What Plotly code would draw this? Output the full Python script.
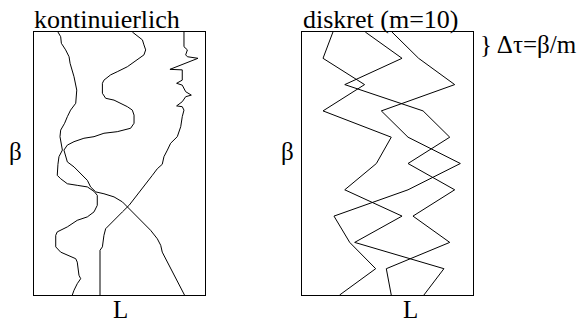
import plotly.graph_objects as go

# ---------------- data ----------------
# continuous world lines (L in % of box width, tau in % of beta, 0 = top)
cont_a_L = [14.0, 15.6, 16.0, 18.5, 20.5, 21.1, 23.4, 25.0, 24.4, 21.4, 19.5, 17.9, 15.6, 15.2, 16.6, 14.6, 14.0,
            13.6, 15.6, 19.5, 25.3, 31.2, 35.1, 37.0, 37.0, 35.1, 31.2, 25.3, 19.5, 13.6, 12.7, 12.7, 15.6, 19.5,
            24.4, 25.3, 26.3, 27.3, 25.3, 23.4, 22.4]
cont_a_tau = [0, 1.8, 4.3, 6.8, 9.4, 11.9, 17.0, 22.1, 27.1, 29.7, 32.2, 34.7, 37.3, 39.8, 44.9, 47.4, 50.3,
              54.5, 55.8, 57.7, 58.3, 58.9, 60.6, 62.1, 65.9, 68.4, 70.3, 71.6, 74.1, 76.0, 77.3, 81.7, 83.7, 84.9,
              86.2, 87.5, 92.5, 93.8, 95.7, 98.2, 100]

cont_b_L = [57.5, 61.4, 63.4, 64.3, 65.3, 64.3, 60.4, 54.6, 48.7, 44.8, 40.9, 40.0, 40.0, 41.9, 46.8, 50.7, 54.6,
            57.5, 58.5, 58.5, 56.5, 48.7, 40.9, 35.1, 29.2, 23.4, 19.5, 17.5, 18.5, 19.5, 19.5, 23.4, 27.3, 31.2,
            33.1, 36.1, 40.9, 46.8, 51.7, 55.6, 60.4, 64.3, 68.2, 72.1, 74.1, 75.0, 77.0, 78.9, 81.9, 83.8, 85.8,
            88.0]
cont_b_tau = [0, 1.8, 3.0, 4.9, 6.8, 8.7, 10.6, 13.2, 15.1, 16.3, 18.3, 19.5, 23.3, 25.2, 25.9, 27.1, 28.4,
              29.7, 31.6, 34.7, 36.6, 37.9, 38.5, 39.8, 40.4, 41.7, 43.0, 44.9, 46.8, 48.7, 49.4, 51.3, 53.9, 56.4,
              58.9, 60.8, 61.5, 62.7, 64.6, 67.2, 70.3, 72.9, 75.4, 78.6, 81.1, 83.7, 86.2, 88.7, 91.9, 94.4, 97.0,
              100]

cont_c_L = [87.7, 87.7, 89.7, 88.7, 89.7, 95.9, 79.5, 86.7, 86.7, 83.4, 86.7, 88.7, 92.0, 88.7, 86.7, 83.4, 86.7,
            87.7, 86.7, 85.8, 83.8, 79.9, 78.0, 76.0, 75.0, 72.1, 69.2, 66.3, 62.4, 58.5, 55.6, 51.7, 47.8, 44.8,
            41.9, 40.9, 40.0, 38.6, 38.6]
cont_c_tau = [0, 5.6, 6.8, 8.7, 9.4, 10.0, 14.2, 14.4, 18.3, 19.5, 20.2, 22.7, 24.0, 24.6, 26.5, 28.1, 28.4,
              29.7, 32.2, 36.0, 39.8, 42.3, 44.9, 47.4, 50.3, 52.0, 54.5, 57.0, 60.2, 63.4, 65.9, 68.4, 71.0, 72.9,
              74.8, 77.3, 81.7, 83.0, 100]

# discrete world lines, m = 10 time slices
disc_tau = [0, 10, 20, 30, 40, 50, 60, 70, 80, 90, 100]
disc_1_L = [18.1, 12.3, 36.6, 12.3, 52.2, 43.5, 25.0, 58.5, 30.8, 83.0, 71.3]
disc_2_L = [37.0, 58.5, 25.0, 70.8, 86.4, 62.0, 89.3, 64.9, 86.4, 49.3, 52.2]
disc_3_L = [52.6, 68.2, 89.3, 46.4, 62.0, 92.6, 62.0, 18.7, 27.9, 43.1, 22.0]

title_left = "kontinuierlich"
title_right = "diskret (m=10)"
x_label = "L"
y_label = "β"
slice_label = "} Δτ=β/m"

# ---------------- layout helpers ----------------
W, H = 578, 323
FONT = "Liberation Serif, Times New Roman, serif"
FS = 25


def px(x):
    return x / W


def py(y):
    return 1 - y / H


fig = go.Figure()
line_style = dict(color="black", width=1)

for L, t in [(cont_a_L, cont_a_tau), (cont_b_L, cont_b_tau), (cont_c_L, cont_c_tau)]:
    fig.add_trace(go.Scatter(x=L, y=t, mode="lines", line=line_style, xaxis="x", yaxis="y",
                             showlegend=False, hoverinfo="skip"))

for L in [disc_1_L, disc_2_L, disc_3_L]:
    fig.add_trace(go.Scatter(x=L, y=disc_tau, mode="lines", line=line_style, xaxis="x2", yaxis="y2",
                             showlegend=False, hoverinfo="skip"))

ax_common = dict(range=[0, 100], showgrid=False, zeroline=False, showticklabels=False, ticks="",
                 showline=True, mirror=True, linecolor="black", linewidth=1, fixedrange=True)
ay_common = dict(range=[100, 0], showgrid=False, zeroline=False, showticklabels=False, ticks="",
                 showline=True, mirror=True, linecolor="black", linewidth=1, fixedrange=True,
                 domain=[py(295), py(32)])

fig.update_layout(
    width=W, height=H,
    margin=dict(l=0, r=0, t=0, b=0),
    paper_bgcolor="white", plot_bgcolor="white",
    xaxis=dict(**ax_common, domain=[px(34), px(205)], anchor="y"),
    yaxis=dict(**ay_common, anchor="x"),
    xaxis2=dict(**ax_common, domain=[px(302), px(473)], anchor="y2"),
    yaxis2=dict(**ay_common, anchor="x2"),
    font=dict(family=FONT, size=FS, color="black"),
)

ann = [
    (title_left, 33, 19, "left", 26),
    (title_right, 302, 19, "left", 26),
    (y_label, 15, 151, "center", FS),
    (y_label, 287, 151, "center", FS),
    (x_label, 120, 309, "center", FS),
    (x_label, 410, 309, "center", FS),
    (slice_label, 479, 44, "left", FS),
]
for text, x, y, xa, fs in ann:
    fig.add_annotation(text=text, x=px(x), y=py(y), xref="paper", yref="paper",
                       xanchor=xa, yanchor="middle", showarrow=False, borderpad=0,
                       font=dict(family=FONT, size=fs, color="black"))

fig.write_html("out.html", config={"displayModeBar": False, "staticPlot": True})

# remove the default page margin so the figure fills the window exactly
with open("out.html", "r", encoding="utf-8") as f:
    html = f.read()
html = html.replace("<head>", "<head><style>html,body{margin:0;padding:0;overflow:hidden;}</style>", 1)
with open("out.html", "w", encoding="utf-8") as f:
    f.write(html)
